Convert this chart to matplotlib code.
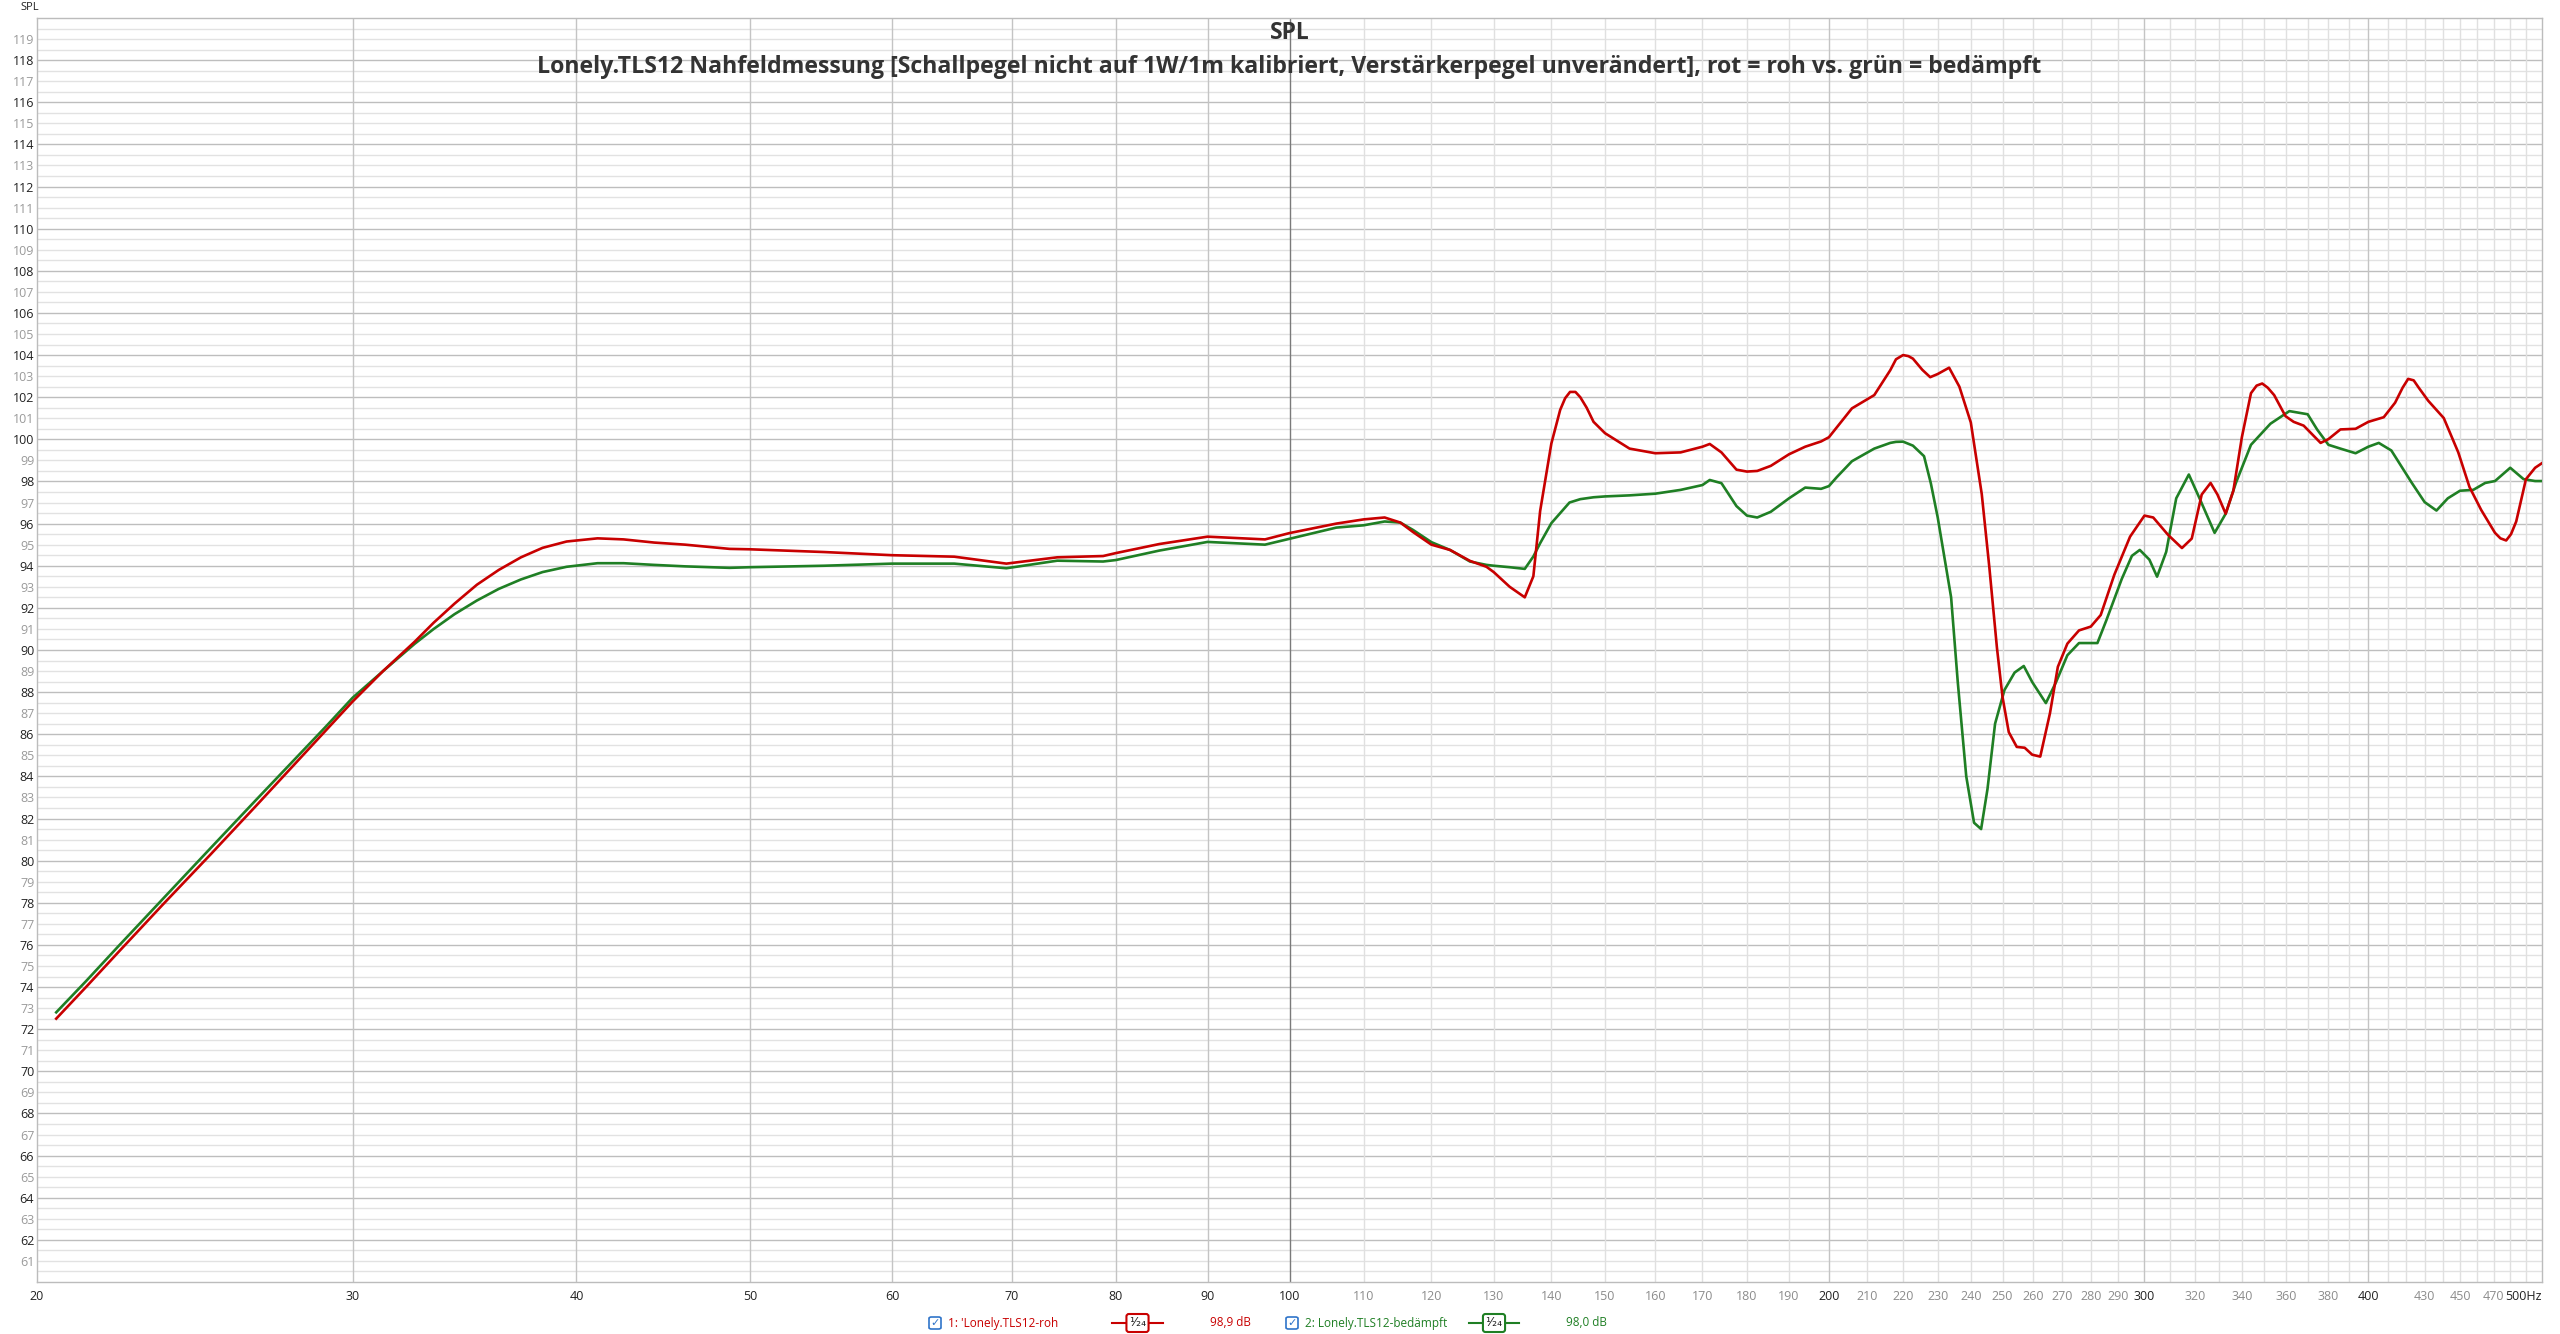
import matplotlib
matplotlib.use("Agg")
import matplotlib.pyplot as plt
from matplotlib.patches import FancyBboxPatch
from matplotlib.lines import Line2D

plt.rcParams['font.family'] = ['Open Sans', 'DejaVu Sans']

freq_roh = [20.5, 21.3, 22.2, 23.5, 25.0, 26.5, 28.0, 29.0, 30.0, 31.2, 32.5, 33.3, 34.2, 35.2,
            36.2, 37.25, 38.3, 39.5, 41.1, 42.5, 44.2, 46, 48.7,
            50, 55, 60, 65, 69.5, 74.2, 78.7, 80, 84.6, 90, 96.9, 100, 106.2, 110, 113,
            115.3, 117.2, 120, 122.9, 126.1, 128.8, 130, 132.7, 135.3, 136.8, 138.0, 140,
            141.6, 142.5, 143.4, 144.4, 145.3, 146.5, 147.8, 150, 154.8, 160, 165.3, 170, 171.6,
            174.2, 177.6, 180, 182.4, 185.6, 190, 194, 198, 200, 202, 206, 212, 216.4, 218,
            220, 221.5, 222.8, 225.5, 227.8, 230, 233.4, 236.5, 240, 243.4, 245.8, 248.2, 250,
            252, 254.6, 257.2, 259.7, 262.4, 265.7, 268.4, 271.7, 275.8, 280, 283.6, 288.6,
            294.5, 300, 303.4, 309.2, 314.8, 318.8, 322.9, 326.6, 329.5, 333, 336.3, 340, 344,
            346.5, 349, 351.5, 354.4, 359.6, 363.4, 368.1, 372.6, 376.2, 380, 385.9, 393.5, 400,
            408, 414, 418, 421, 424, 426.6, 432, 440.7, 449, 455.5, 462.4, 470.7, 474, 477.5,
            480.5, 483.7, 489.8, 495.6, 500]
spl_roh = [72.5, 74.0, 75.65, 77.9, 80.3, 82.6, 84.8, 86.2, 87.55, 89.0, 90.4, 91.3, 92.2, 93.1,
           93.8, 94.4, 94.85, 95.15, 95.3, 95.25, 95.1, 95.0, 94.8,
           94.78, 94.65, 94.5, 94.43, 94.1, 94.4, 94.46, 94.6, 95.03, 95.38, 95.25, 95.55, 96.0,
           96.2, 96.29, 96.05, 95.6, 95.0, 94.75, 94.23, 93.95, 93.7, 93.0, 92.5, 93.5, 96.6,
           99.8, 101.4, 101.95, 102.25, 102.25, 102.0, 101.5, 100.83, 100.29, 99.56, 99.34,
           99.38, 99.65, 99.78, 99.38, 98.56, 98.47, 98.5, 98.74, 99.29, 99.65, 99.9, 100.1,
           100.56, 101.47, 102.1, 103.28, 103.8, 104.0, 103.95, 103.83, 103.3, 102.95, 103.1,
           103.4, 102.5, 100.8, 97.4, 93.9, 90.1, 87.75, 86.1, 85.4, 85.36, 85.03, 84.94, 87.0,
           89.2, 90.3, 90.93, 91.11, 91.66, 93.57, 95.38, 96.38, 96.29, 95.47, 94.84, 95.29,
           97.38, 97.93, 97.38, 96.47, 97.56, 100.1, 102.19, 102.55, 102.65, 102.45, 102.1,
           101.1, 100.83, 100.65, 100.19, 99.83, 100.01, 100.47, 100.5, 100.83, 101.05, 101.74,
           102.45, 102.87, 102.8, 102.47, 101.83, 101.01, 99.38, 97.74, 96.65, 95.56, 95.3, 95.2,
           95.5, 96.1, 98.11, 98.65, 98.87]

# damped (green)
freq_bed = [20.5, 21.3, 22.2, 23.5, 25.0, 26.5, 28.0, 29.0, 30.0, 31.2, 32.5, 33.3, 34.2, 35.2,
            36.2, 37.25, 38.3, 39.5, 41.1, 42.5, 44.2, 46, 48.7, 50,
            55, 60, 65, 69.5, 74.2, 78.7, 80, 84.6, 90, 96.9, 100, 106.2, 110, 113, 115.3,
            117.2, 120, 122.9, 126.1, 128.8, 130, 132.7, 135.3, 136.8, 138.0, 140, 141.6,
            143.3, 145.3, 147.8, 150, 154.8, 160, 165.3, 170, 171.6, 174.2, 177.6, 180, 182.4,
            185.6, 190, 194, 198, 200, 202, 206, 212, 216.4, 218, 220, 222.8, 226, 228, 230, 232,
            234, 236, 238.6, 241, 243.2, 245.2, 247.6, 250.6, 253.9, 256.9, 259.7, 264.3,
            267.8, 271.7, 275.8, 282.4, 285.6, 291.4, 295.2, 298.2, 301.9, 304.9, 308.5, 312.5,
            317.6, 322, 328.3, 333, 337.4, 344, 352.7, 361.4, 370, 374.5, 380, 385.9, 393.5,
            400, 405.4, 412, 423, 430, 436.6, 443, 450, 457.7, 464.8, 470.7, 480, 488.3,
            495.6, 500]
spl_bed = [72.8, 74.28, 75.93, 78.17, 80.6, 82.88, 85.02, 86.38, 87.73, 89.0, 90.3, 91.0, 91.7,
           92.35, 92.9, 93.35, 93.7, 93.95, 94.12, 94.12, 94.04, 93.97, 93.9, 93.93, 94.0, 94.1,
           94.1, 93.88, 94.24, 94.2, 94.27, 94.72, 95.13, 95.0, 95.28, 95.81,
           95.92, 96.1, 96.05, 95.7, 95.12, 94.75, 94.2, 94.04, 94.0, 93.93, 93.85, 94.44, 95.07,
           96.02, 96.5, 97.0, 97.16, 97.25, 97.29, 97.34, 97.42, 97.6, 97.83, 98.07, 97.92, 96.83,
           96.38, 96.29, 96.56, 97.2, 97.71, 97.65, 97.78, 98.2, 98.96, 99.56, 99.83, 99.88,
           99.89, 99.7, 99.2, 97.9, 96.3, 94.4, 92.5, 88.5, 84.0, 81.8, 81.5, 83.4, 86.5, 88.1,
           88.93, 89.24, 88.48, 87.48, 88.48, 89.75, 90.33, 90.33, 91.39, 93.38, 94.47, 94.75,
           94.29, 93.48, 94.66, 97.2, 98.33, 97.2, 95.56, 96.47, 97.93, 99.74, 100.74, 101.34,
           101.19, 100.47, 99.74, 99.56, 99.34, 99.65, 99.83, 99.47, 97.93, 97.02, 96.62, 97.2,
           97.56, 97.6, 97.93, 98.02, 98.65, 98.11, 98.02, 98.02]

xticks = [20, 30, 40, 50, 60, 70, 80, 90, 100, 110, 120, 130, 140, 150, 160, 170, 180, 190,
          200, 210, 220, 230, 240, 250, 260, 270, 280, 290, 300, 320, 340, 360, 380, 400,
          430, 450, 470, 500]
dark_x = [20, 30, 40, 50, 60, 70, 80, 90, 100, 200, 300, 400, 500]
xgrid = list(range(30, 500, 10))
yticks = list(range(61, 120))

RED = '#c80000'
GREEN = '#1f7f24'
W, H = 2560, 1334


def fx(x):
    return x / W


def fy(y):
    return 1 - y / H


fig = plt.figure(figsize=(25.6, 13.34), dpi=100)
ax = fig.add_axes([fx(37), fy(1282), fx(2542) - fx(37), fy(18) - fy(1282)])
ax.set_xscale('log')
ax.set_xlim(20, 500)
ax.set_ylim(60, 120)

# grid
for k in range(121, 240):
    v = k / 2
    if v % 2 == 0:
        c = '#bebebe'
    else:
        c = '#e2e2e2'
    ax.axhline(v, color=c, lw=1.0, zorder=0)
for g in xgrid:
    if g == 100:
        c = '#7a7a7a'
    elif g in (200, 300, 400) or g < 100:
        c = '#c4c4c4'
    else:
        c = '#e0e0e0'
    ax.axvline(g, color=c, lw=1.0, zorder=0)

ax.plot(freq_bed, spl_bed, color=GREEN, lw=1.9, zorder=3)
ax.plot(freq_roh, spl_roh, color=RED, lw=1.9, zorder=4)

ax.set_xticks(xticks)
ax.set_xticklabels([str(t) if t != 500 else '500Hz' for t in xticks])
ax.minorticks_off()
ax.set_yticks(yticks)
ax.set_yticklabels([str(t) for t in yticks])
ax.tick_params(axis='both', length=0, labelsize=9)
ax.tick_params(axis='y', pad=2)
ax.tick_params(axis='x', pad=6)
for lab, t in zip(ax.get_xticklabels(), xticks):
    lab.set_color('#222222' if t in dark_x else '#8c8c8c')
for lab, t in zip(ax.get_yticklabels(), yticks):
    lab.set_color('#222222' if t % 2 == 0 else '#9a9a9a')
last = ax.get_xticklabels()[-1]
last.set_horizontalalignment('right')
last.set_x(500)

for s in ax.spines.values():
    s.set_color('#bcbcbc')
    s.set_linewidth(1.0)

fig.text(fx(20), fy(8), 'SPL', fontsize=8, color='#222222', va='center', ha='left')
cx = (fx(37) + fx(2542)) / 2
fig.text(cx, fy(33), 'SPL', fontsize=16.5, fontweight='bold', color='#333333',
         ha='center', va='center')
fig.text(cx, fy(67), 'Lonely.TLS12 Nahfeldmessung [Schallpegel nicht auf 1W/1m kalibriert, '
         'Verstärkerpegel unverändert], rot = roh vs. grün = bedämpft',
         fontsize=16.7, fontweight='bold', color='#333333', ha='center', va='center')

# legend row at the bottom
ly = 1323
entries = [(935, "1: 'Lonely.TLS12-roh", RED, 1112, 1163, '98,9 dB', 1210),
           (1292, '2: Lonely.TLS12-bedämpft', GREEN, 1469, 1519, '98,0 dB', 1566)]
for cbx, name, col, l0, l1, lvl, lvx in entries:
    box = FancyBboxPatch((fx(cbx - 6), fy(ly + 6)), fx(12), 12 / H,
                         boxstyle='round,pad=0,rounding_size=0.001',
                         transform=fig.transFigure, fc='white', ec='#2f74c9', lw=1.2)
    fig.add_artist(box)
    fig.text(fx(cbx), fy(ly), '✓', fontsize=8, color='#2f74c9', ha='center', va='center',
             family=['DejaVu Sans'])
    fig.text(fx(cbx + 13), fy(ly), name, fontsize=8.5, color=col, ha='left', va='center')
    fig.add_artist(Line2D([fx(l0), fx(l1)], [fy(ly), fy(ly)], color=col, lw=1.5,
                          transform=fig.transFigure))
    fig.text(fx((l0 + l1) / 2), fy(ly), '¹⁄₂₄', fontsize=9, color='#222222', ha='center',
             va='center', family=['DejaVu Sans'],
             bbox=dict(boxstyle='round,pad=0.2', fc='white', ec=col, lw=1.5))
    fig.text(fx(lvx), fy(ly), lvl, fontsize=8.5, color=col, ha='left', va='center')

fig.savefig('out.png', dpi=100, facecolor='white')
